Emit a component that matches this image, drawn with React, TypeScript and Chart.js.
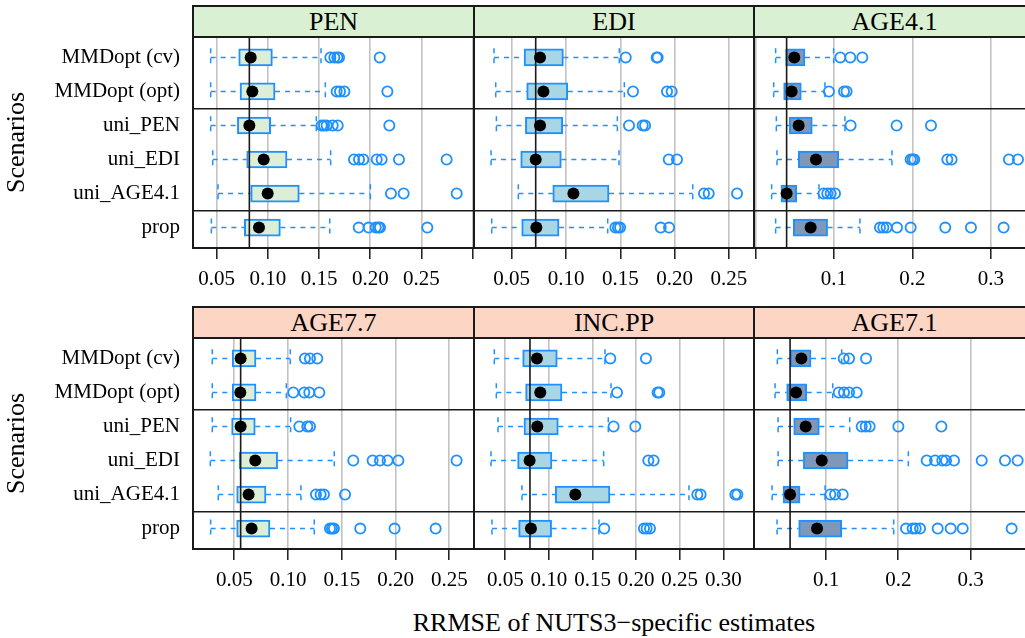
import React, { useEffect, useRef } from 'react';
import { Chart, registerables } from 'chart.js';
Chart.register(...registerables);

const scenarios = ['MMDopt (cv)', 'MMDopt (opt)', 'uni_PEN', 'uni_EDI', 'uni_AGE4.1', 'prop'];

// each row: [lower whisker, Q1, median, Q3, upper whisker]
const penStats = [
  [0.0441, 0.0715, 0.0832, 0.1044, 0.1519],
  [0.0441, 0.0728, 0.0848, 0.107, 0.1561],
  [0.0441, 0.0702, 0.0819, 0.1027, 0.1473],
  [0.0461, 0.0793, 0.0959, 0.1187, 0.1613],
  [0.0513, 0.0832, 0.0998, 0.1307, 0.2001],
  [0.0448, 0.077, 0.0913, 0.1122, 0.1604],
];
const penOutliers = [
  [0.161, 0.1649, 0.1678, 0.1695, 0.2092],
  [0.1672, 0.1704, 0.1747, 0.2167],
  [0.1525, 0.1548, 0.1574, 0.1633, 0.1682, 0.2186],
  [0.1841, 0.189, 0.1932, 0.2063, 0.2111, 0.228, 0.2746],
  [0.2202, 0.2326, 0.2844],
  [0.1887, 0.1984, 0.2053, 0.2079, 0.2095, 0.2557],
];

const ediStats = [
  [0.0337, 0.0614, 0.0761, 0.0976, 0.1491],
  [0.0353, 0.0638, 0.0792, 0.1016, 0.1537],
  [0.0359, 0.0626, 0.0761, 0.097, 0.1473],
  [0.031, 0.0583, 0.0721, 0.0957, 0.1488],
  [0.0561, 0.0878, 0.1068, 0.1396, 0.2167],
  [0.0316, 0.0592, 0.0727, 0.0936, 0.1384],
];
const ediOutliers = [
  [0.155, 0.1835, 0.1844],
  [0.1617, 0.193, 0.1973],
  [0.158, 0.1706, 0.1728],
  [0.1946, 0.2022],
  [0.2271, 0.2314, 0.2575],
  [0.1455, 0.1479, 0.1498, 0.1872, 0.1949],
];

const age41Stats = [
  [0.0259, 0.0386, 0.0497, 0.0633, 0.0998],
  [0.0234, 0.0361, 0.0463, 0.0586, 0.0887],
  [0.0268, 0.0433, 0.0552, 0.0726, 0.1142],
  [0.0276, 0.0548, 0.0773, 0.1062, 0.1741],
  [0.0208, 0.0327, 0.0399, 0.0527, 0.0811],
  [0.0259, 0.0484, 0.0705, 0.0921, 0.1333],
];
const age41Outliers = [
  [0.1083, 0.121, 0.1363],
  [0.0938, 0.113, 0.1163],
  [0.1214, 0.18, 0.2238],
  [0.1979, 0.2004, 0.2025, 0.2446, 0.2501, 0.3231, 0.3346],
  [0.087, 0.0917, 0.096, 0.1015],
  [0.1588, 0.1631, 0.1673, 0.1805, 0.1979, 0.242, 0.2747, 0.3163],
];

const age77Stats = [
  [0.0295, 0.0481, 0.0559, 0.0702, 0.1021],
  [0.0295, 0.0481, 0.0556, 0.0702, 0.0984],
  [0.0295, 0.0475, 0.0559, 0.0695, 0.1024],
  [0.0277, 0.0547, 0.0695, 0.0903, 0.143],
  [0.0351, 0.0522, 0.0633, 0.0795, 0.112],
  [0.028, 0.0522, 0.0661, 0.0832, 0.1244],
];
const age77Outliers = [
  [0.1157, 0.1204, 0.1272],
  [0.1049, 0.1151, 0.1198, 0.1291],
  [0.1105, 0.1179, 0.1204],
  [0.1607, 0.1787, 0.1855, 0.1926, 0.2026, 0.2568],
  [0.126, 0.1303, 0.1334, 0.153],
  [0.139, 0.1409, 0.1427, 0.1672, 0.1991, 0.2373],
];

const incppStats = [
  [0.0374, 0.0699, 0.0863, 0.1096, 0.1643],
  [0.0397, 0.0733, 0.0901, 0.115, 0.1712],
  [0.0416, 0.0714, 0.0867, 0.1108, 0.1681],
  [0.0336, 0.0641, 0.0779, 0.1035, 0.1628],
  [0.0691, 0.1073, 0.1303, 0.17, 0.2606],
  [0.0347, 0.0653, 0.0794, 0.1031, 0.1574],
];
const incppOutliers = [
  [0.1704, 0.2113],
  [0.1781, 0.2247, 0.2266],
  [0.1742, 0.1991],
  [0.214, 0.2201],
  [0.2702, 0.274, 0.3138, 0.3161],
  [0.1635, 0.209, 0.2121, 0.2159],
];

const age71Stats = [
  [0.0327, 0.0507, 0.0659, 0.0793, 0.1217],
  [0.0295, 0.0456, 0.0586, 0.0733, 0.1093],
  [0.0337, 0.0553, 0.0719, 0.0908, 0.1328],
  [0.0337, 0.0687, 0.0941, 0.1305, 0.2139],
  [0.0254, 0.0406, 0.0503, 0.0641, 0.0987],
  [0.0323, 0.0622, 0.0876, 0.1217, 0.1936],
];
const age71Outliers = [
  [0.1245, 0.1319, 0.1554],
  [0.1176, 0.1249, 0.1319, 0.1425],
  [0.1494, 0.1549, 0.1604, 0.2001, 0.2596],
  [0.2393, 0.2508, 0.2609, 0.266, 0.2771, 0.3154, 0.3476, 0.3651],
  [0.106, 0.1125, 0.1231],
  [0.2107, 0.2199, 0.2241, 0.2301, 0.2545, 0.2725, 0.2891, 0.3568],
];

// reference medians (vertical black line)
const refMedians = [0.0819, 0.0721, 0.0399, 0.0559, 0.0783, 0.0503];

const penTicks = [0.05, 0.1, 0.15, 0.2, 0.25, 0.3];
const penTickLabels = ['0.05', '0.10', '0.15', '0.20', '0.25', ''];
const ediTicks = [0.05, 0.1, 0.15, 0.2, 0.25];
const ediTickLabels = ['0.05', '0.10', '0.15', '0.20', '0.25'];
const age41Ticks = [0, 0.1, 0.2, 0.3];
const age41TickLabels = ['', '0.1', '0.2', '0.3'];
const age77Ticks = [0.05, 0.1, 0.15, 0.2, 0.25];
const age77TickLabels = ['0.05', '0.10', '0.15', '0.20', '0.25'];
const incppTicks = [0.05, 0.1, 0.15, 0.2, 0.25, 0.3];
const incppTickLabels = ['0.05', '0.10', '0.15', '0.20', '0.25', '0.30'];
const age71Ticks = [0.1, 0.2, 0.3];
const age71TickLabels = ['0.1', '0.2', '0.3'];

const FONT = '"Liberation Serif", "Times New Roman", serif';
const BLUE = '#1E90FF';
const STRIP_TOP = '#d9f0d3';
const STRIP_BOTTOM = '#fdd5c4';

const COL_LEFT = [193, 474, 754];
const COL_RIGHT = [474, 754, 1035];
const STRIP_Y = [6, 307];
const PANEL_Y = [37, 338];
const PANEL_H = 211;
const XAXIS_H = 50;

type PanelDef = {
  name: string;
  stats: number[][];
  outliers: number[][];
  ref: number;
  ticks: number[];
  tickLabels: string[];
  min: number;
  max: number;
  fill: string;
  row: number;
  col: number;
};

const panels: PanelDef[] = [
  { name: 'PEN', stats: penStats, outliers: penOutliers, ref: refMedians[0], ticks: penTicks, tickLabels: penTickLabels, min: 0.02686, max: 0.3013, fill: '#dcefd6', row: 0, col: 0 },
  { name: 'EDI', stats: ediStats, outliers: ediOutliers, ref: refMedians[1], ticks: ediTicks, tickLabels: ediTickLabels, min: 0.01529, max: 0.2731, fill: '#a9d6e5', row: 0, col: 1 },
  { name: 'AGE4.1', stats: age41Stats, outliers: age41Outliers, ref: refMedians[2], ticks: age41Ticks, tickLabels: age41TickLabels, min: -0.00166, max: 0.3563, fill: '#7f98b9', row: 0, col: 2 },
  { name: 'AGE7.7', stats: age77Stats, outliers: age77Outliers, ref: refMedians[3], ticks: age77Ticks, tickLabels: age77TickLabels, min: 0.01158, max: 0.273, fill: '#dcefd6', row: 1, col: 0 },
  { name: 'INC.PP', stats: incppStats, outliers: incppOutliers, ref: refMedians[4], ticks: incppTicks, tickLabels: incppTickLabels, min: 0.01411, max: 0.3352, fill: '#a9d6e5', row: 1, col: 1 },
  { name: 'AGE7.1', stats: age71Stats, outliers: age71Outliers, ref: refMedians[5], ticks: age71Ticks, tickLabels: age71TickLabels, min: 0.0004, max: 0.3891, fill: '#7f98b9', row: 1, col: 2 },
];

const framePlugin = {
  id: 'panelFrame',
  afterDraw(chart: any) {
    const { ctx, chartArea } = chart;
    const { left, top, right, bottom } = chartArea;
    ctx.save();
    ctx.strokeStyle = '#1a1a1a';
    ctx.lineWidth = 2;
    ctx.strokeRect(left, top, right - left, bottom - top);
    ctx.restore();
  },
};

const zeroPad = (scale: any) => {
  scale.paddingTop = 0;
  scale.paddingBottom = 0;
  scale.paddingLeft = 0;
  scale.paddingRight = 0;
};

function Panel({ p }: { p: PanelDef }) {
  const ref = useRef<HTMLCanvasElement | null>(null);
  const yW = p.col === 0 ? COL_LEFT[0] : 0;
  const width = COL_RIGHT[p.col] - COL_LEFT[p.col] + yW;
  const height = PANEL_H + XAXIS_H;
  const left = COL_LEFT[p.col] - yW;
  const top = PANEL_Y[p.row];

  useEffect(() => {
    if (!ref.current) return;
    const cap = 0.27;
    const boxes = p.stats.map((s, i) => ({ x: [s[1], s[3]], y: i }));
    const medians = p.stats.map((s, i) => ({ x: s[2], y: i }));
    const outs: { x: number; y: number }[] = [];
    p.outliers.forEach((arr, i) => arr.forEach((v) => outs.push({ x: v, y: i })));
    const gap = { x: NaN, y: NaN };
    const whisk: { x: number; y: number }[] = [];
    p.stats.forEach((s, i) => {
      whisk.push({ x: s[3], y: i }, { x: s[4], y: i }, gap);
      whisk.push({ x: s[4], y: i - cap }, { x: s[4], y: i + cap }, gap);
      whisk.push({ x: s[0], y: i }, { x: s[1], y: i }, gap);
      whisk.push({ x: s[0], y: i - cap }, { x: s[0], y: i + cap }, gap);
    });
    const isLeft = p.col === 0;
    const chart = new Chart(ref.current, {
      type: 'bar',
      data: {
        datasets: [
          {
            type: 'scatter',
            data: medians,
            pointRadius: 6,
            pointBackgroundColor: '#000',
            pointBorderWidth: 0,
            order: 1,
          } as any,
          {
            type: 'scatter',
            data: outs,
            pointRadius: 5.1,
            pointBorderColor: BLUE,
            pointBackgroundColor: 'rgba(0,0,0,0)',
            pointBorderWidth: 1.8,
            order: 2,
          } as any,
          {
            type: 'line',
            data: [
              { x: p.ref, y: -0.6 },
              { x: p.ref, y: 5.6 },
            ],
            borderColor: '#1a1a1a',
            borderWidth: 1.6,
            pointRadius: 0,
            order: 3,
          } as any,
          {
            type: 'bar',
            indexAxis: 'y',
            data: boxes,
            backgroundColor: p.fill,
            borderColor: BLUE,
            borderWidth: 2,
            borderSkipped: false,
            barThickness: 17,
            order: 4,
          } as any,
          {
            type: 'line',
            data: whisk,
            borderColor: BLUE,
            borderWidth: 1.5,
            borderDash: [5, 5],
            pointRadius: 0,
            spanGaps: false,
            tension: 0,
            order: 5,
          } as any,
        ],
      },
      options: {
        responsive: false,
        animation: false,
        events: [],
        layout: { padding: 0, autoPadding: false },
        plugins: { legend: { display: false }, tooltip: { enabled: false } },
        scales: {
          x: {
            type: 'linear',
            position: 'bottom',
            offset: false,
            min: p.min,
            max: p.max,
            afterBuildTicks: (scale: any) => {
              scale.ticks = p.ticks.map((v) => ({ value: v }));
            },
            afterFit: (scale: any) => {
              scale.height = XAXIS_H;
              zeroPad(scale);
            },
            ticks: {
              autoSkip: false,
              maxRotation: 0,
              minRotation: 0,
              padding: 8,
              color: '#000',
              font: { family: FONT, size: 21 },
              callback: (_v: any, i: number) => p.tickLabels[i],
            },
            grid: {
              offset: false,
              color: '#c2c2c2',
              lineWidth: 1.6,
              drawTicks: true,
              tickLength: 11,
              tickColor: '#1a1a1a',
              tickWidth: 1.5,
            },
            border: { display: false },
          },
          y: {
            type: 'linear',
            position: 'left',
            offset: false,
            min: -0.6,
            max: 5.6,
            reverse: true,
            afterBuildTicks: (scale: any) => {
              scale.ticks = scenarios.map((_s, i) => ({ value: i }));
            },
            afterFit: (scale: any) => {
              scale.width = yW;
              zeroPad(scale);
            },
            ticks: {
              display: isLeft,
              autoSkip: false,
              padding: 13,
              color: '#000',
              font: { family: FONT, size: 21 },
              callback: (v: any) => scenarios[Math.round(Number(v))],
            },
            grid: { display: false, drawTicks: false, offset: false },
            border: { display: false },
            title: {
              display: isLeft,
              text: 'Scenarios',
              color: '#000',
              font: { family: FONT, size: 26 },
              padding: { top: 2, bottom: 0 },
            },
          },
          y2: {
            type: 'linear',
            position: 'right',
            offset: false,
            min: -0.6,
            max: 5.6,
            reverse: true,
            afterBuildTicks: (scale: any) => {
              scale.ticks = [{ value: 1.5 }, { value: 4.5 }];
            },
            afterFit: (scale: any) => {
              scale.width = 0;
              zeroPad(scale);
            },
            ticks: { display: false },
            grid: { color: '#1a1a1a', lineWidth: 1.6, drawTicks: false, offset: false },
            border: { display: false },
          },
        },
      } as any,
      plugins: [framePlugin],
    });
    return () => chart.destroy();
  }, []);

  return (
    <canvas
      ref={ref}
      width={width}
      height={height}
      style={{ position: 'absolute', left, top, width, height }}
    />
  );
}

function Strip({ p }: { p: PanelDef }) {
  const left = COL_LEFT[p.col] - 1;
  const w = COL_RIGHT[p.col] - COL_LEFT[p.col] + 2;
  const top = STRIP_Y[p.row] - 1;
  const h = PANEL_Y[p.row] - STRIP_Y[p.row] + 2;
  return (
    <div
      style={{
        position: 'absolute',
        left,
        top,
        width: w,
        height: h,
        boxSizing: 'border-box',
        border: '2px solid #1a1a1a',
        background: p.row === 0 ? STRIP_TOP : STRIP_BOTTOM,
        fontFamily: FONT,
        fontSize: 26,
        lineHeight: `${h - 4}px`,
        textAlign: 'center',
        color: '#000',
        whiteSpace: 'nowrap',
      }}
    >
      {p.name}
    </div>
  );
}

export default function App() {
  return (
    <div
      style={{
        position: 'fixed',
        left: 0,
        top: 0,
        width: 1025,
        height: 638,
        overflow: 'hidden',
        background: '#fff',
      }}
    >
      {panels.map((p) => (
        <Panel key={p.name} p={p} />
      ))}
      {panels.map((p) => (
        <Strip key={'s' + p.name} p={p} />
      ))}
      <div
        style={{
          position: 'absolute',
          left: COL_LEFT[0],
          width: COL_RIGHT[2] - COL_LEFT[0],
          top: 608,
          height: 30,
          lineHeight: '30px',
          textAlign: 'center',
          fontFamily: FONT,
          fontSize: 26,
          color: '#000',
          whiteSpace: 'nowrap',
        }}
      >
        RRMSE of NUTS3−specific estimates
      </div>
    </div>
  );
}
